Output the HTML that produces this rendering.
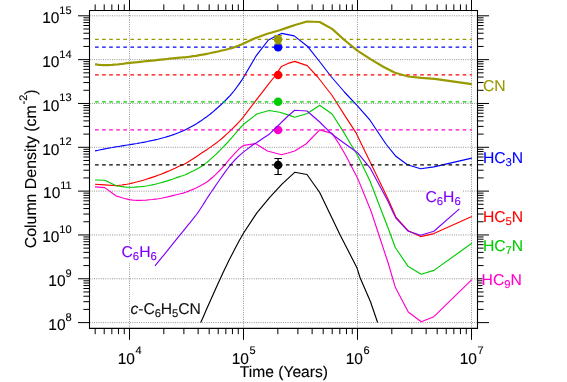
<!DOCTYPE html>
<html><head><meta charset="utf-8"><title>plot</title>
<style>
html,body{margin:0;padding:0;background:#fff;}
body{width:567px;height:382px;position:relative;overflow:hidden;font-family:"Liberation Sans",sans-serif;}
svg{display:block;will-change:transform;}
</style></head><body>
<svg width="567" height="382" viewBox="0 0 567 382" style="position:absolute;left:0;top:0">
<rect width="567" height="382" fill="#fff"/>
<line x1="129.50" y1="10.5" x2="129.50" y2="328.4" stroke="#959595" stroke-width="1" stroke-dasharray="1 1.25"/>
<line x1="243.50" y1="10.5" x2="243.50" y2="328.4" stroke="#959595" stroke-width="1" stroke-dasharray="1 1.25"/>
<line x1="357.50" y1="10.5" x2="357.50" y2="328.4" stroke="#959595" stroke-width="1" stroke-dasharray="1 1.25"/>
<line x1="471.50" y1="10.5" x2="471.50" y2="328.4" stroke="#959595" stroke-width="1" stroke-dasharray="1 1.25"/>
<line x1="89.5" y1="322.61" x2="477.5" y2="322.61" stroke="#959595" stroke-width="1" stroke-dasharray="1 1.25"/>
<line x1="89.5" y1="278.78" x2="477.5" y2="278.78" stroke="#959595" stroke-width="1" stroke-dasharray="1 1.25"/>
<line x1="89.5" y1="234.95" x2="477.5" y2="234.95" stroke="#959595" stroke-width="1" stroke-dasharray="1 1.25"/>
<line x1="89.5" y1="191.12" x2="477.5" y2="191.12" stroke="#959595" stroke-width="1" stroke-dasharray="1 1.25"/>
<line x1="89.5" y1="147.29" x2="477.5" y2="147.29" stroke="#959595" stroke-width="1" stroke-dasharray="1 1.25"/>
<line x1="89.5" y1="103.46" x2="477.5" y2="103.46" stroke="#959595" stroke-width="1" stroke-dasharray="1 1.25"/>
<line x1="89.5" y1="59.63" x2="477.5" y2="59.63" stroke="#959595" stroke-width="1" stroke-dasharray="1 1.25"/>
<line x1="89.5" y1="15.80" x2="477.5" y2="15.80" stroke="#959595" stroke-width="1" stroke-dasharray="1 1.25"/>
<rect x="425.9" y="190.0" width="36.0" height="17.7" fill="#fff"/>
<rect x="121.4" y="245.0" width="35.8" height="17.7" fill="#fff"/>
<rect x="130.6" y="301.0" width="69.8" height="17.7" fill="#fff"/>
<clipPath id="cp"><rect x="89.5" y="10.5" width="388.0" height="312.41"/></clipPath>
<g clip-path="url(#cp)" fill="none" stroke-linejoin="round" stroke-linecap="butt">
<polyline points="95.0,150.9 96.3,150.6 98.1,150.3 100.3,149.8 102.6,149.4 104.8,148.9 106.9,148.5 108.8,148.1 110.7,147.8 112.6,147.5 114.5,147.1 116.3,146.8 118.2,146.5 120.1,146.2 122.0,145.9 123.8,145.6 125.7,145.3 127.6,145.0 129.5,144.7 131.4,144.4 133.3,144.1 135.2,143.8 137.0,143.5 138.9,143.1 140.8,142.8 142.7,142.4 144.6,142.1 146.5,141.7 148.3,141.3 150.2,140.9 152.1,140.5 154.0,140.1 155.9,139.6 157.8,139.2 159.6,138.7 161.5,138.2 163.4,137.7 165.3,137.2 167.1,136.6 169.0,136.1 170.9,135.5 172.7,134.9 174.6,134.2 176.5,133.5 178.4,132.8 180.2,132.0 182.1,131.2 184.0,130.4 185.9,129.5 187.8,128.6 189.7,127.6 191.6,126.6 193.4,125.5 195.3,124.4 197.2,123.3 199.1,122.1 201.1,120.8 203.0,119.4 204.9,118.0 206.8,116.7 208.5,115.4 210.1,114.2 211.5,113.0 212.9,111.9 214.3,110.7 215.6,109.5 217.0,108.3 218.4,107.0 219.8,105.8 221.2,104.5 222.6,103.2 224.0,101.8 225.4,100.4 226.8,99.0 228.2,97.5 229.6,96.1 231.0,94.5 232.4,92.8 233.9,91.0 235.4,89.1 236.9,87.0 238.5,84.9 240.1,82.6 241.8,80.1 243.6,77.3 255.9,56.2 268.4,40.0 276.2,36.0 281.5,33.4 288.0,34.6 294.2,35.9 307.4,46.2 319.5,61.5 331.5,77.0 344.4,92.0 357.7,106.1 370.0,120.2 386.3,144.5 395.9,156.3 407.4,164.8 420.6,168.7 433.9,166.9 471.8,158.1" stroke="#0000ff" stroke-width="1.15"/>
<polyline points="95.0,184.2 104.8,184.9 116.2,185.8 117.6,185.6 119.5,185.3 121.8,185.0 124.2,184.6 126.8,184.2 129.4,183.7 132.0,183.1 134.7,182.5 137.5,181.8 140.4,181.0 143.3,180.2 146.2,179.3 149.1,178.4 152.1,177.4 155.1,176.4 158.0,175.3 161.0,174.2 163.8,173.1 166.6,171.9 169.5,170.7 172.3,169.4 175.0,168.2 177.5,167.0 179.7,166.0 181.3,165.3 182.3,165.0 183.2,164.7 184.1,164.3 185.6,163.4 188.0,162.0 191.5,159.8 196.0,156.9 200.9,153.6 206.0,150.2 210.8,146.9 214.9,144.0 218.3,141.4 221.3,139.0 223.9,136.7 226.4,134.4 228.8,132.2 231.2,129.9 233.5,127.6 235.7,125.5 237.7,123.3 239.8,121.1 241.8,118.8 243.8,116.4 256.2,100.1 268.5,84.2 274.2,77.0 281.5,66.4 288.0,63.4 294.7,61.4 307.2,65.6 317.7,77.0 332.1,95.5 344.4,114.9 355.9,132.6 361.4,144.0 370.9,163.4 388.0,199.0 393.3,211.0 395.9,217.2 408.3,230.8 420.6,236.6 433.9,233.6 471.8,216.6" stroke="#ff0000" stroke-width="1.15"/>
<polyline points="95.0,180.0 104.8,180.3 116.2,185.8 117.6,186.0 119.5,186.3 121.8,186.6 124.2,186.9 126.8,187.1 129.4,187.2 132.0,187.2 134.7,187.1 137.5,186.9 140.4,186.7 143.3,186.4 146.2,186.0 149.1,185.5 152.1,184.9 155.1,184.2 158.0,183.5 161.0,182.7 163.8,181.9 166.6,181.1 169.5,180.1 172.3,179.2 175.0,178.2 177.5,177.4 179.7,176.6 181.4,176.0 182.7,175.7 183.7,175.3 184.8,175.0 186.2,174.4 188.0,173.5 190.4,172.3 193.1,171.0 196.0,169.5 199.2,167.7 202.4,165.7 205.6,163.4 208.9,160.7 212.3,157.6 215.9,154.3 219.4,150.8 222.8,147.4 226.1,144.0 229.2,140.6 232.3,137.1 235.3,133.6 238.2,130.2 241.0,127.0 243.6,124.3 256.8,114.0 269.1,110.5 279.7,112.3 288.0,114.9 294.7,117.2 307.4,113.5 319.7,105.2 332.1,114.0 344.4,133.4 350.6,144.0 357.7,155.5 370.0,181.0 381.5,211.0 388.0,227.8 395.4,247.7 408.3,266.6 421.2,274.2 433.9,270.4 471.8,243.3" stroke="#00cc00" stroke-width="1.15"/>
<polyline points="95.0,186.9 104.8,187.6 116.2,196.0 117.7,196.4 119.7,197.0 122.1,197.8 124.6,198.5 127.1,199.1 129.4,199.6 131.3,199.9 133.1,200.2 134.9,200.3 136.7,200.4 138.7,200.4 140.9,200.4 143.5,200.3 146.3,200.1 149.3,199.8 152.4,199.5 155.5,199.1 158.5,198.7 161.5,198.2 164.6,197.5 167.7,196.9 170.7,196.1 173.6,195.4 176.2,194.8 178.4,194.3 180.4,193.8 182.1,193.4 183.9,192.9 185.8,192.3 188.0,191.4 190.6,190.3 193.6,189.1 196.7,187.7 199.8,186.1 202.8,184.5 205.6,182.8 208.2,181.0 210.6,179.0 213.0,177.0 215.3,174.9 217.5,172.7 219.7,170.5 221.9,168.2 224.0,165.8 226.1,163.3 228.1,160.9 230.1,158.5 232.1,156.3 234.1,154.2 236.0,152.1 237.9,150.1 239.8,148.2 241.7,146.7 243.6,145.4 255.5,143.6 267.4,151.0 281.5,154.7 288.0,153.0 294.7,151.0 306.0,144.0 319.7,129.9 332.1,133.4 339.1,144.0 346.2,156.3 357.7,178.4 371.0,211.0 388.0,262.5 395.4,287.6 408.3,312.0 421.2,321.7 433.9,316.7 471.8,279.7" stroke="#ff00cc" stroke-width="1.15"/>
<line x1="95.05" y1="47.15" x2="471.85" y2="47.15" stroke="#0000ff" stroke-width="1.3" stroke-dasharray="3.6 3.47"/>
<circle cx="278.1" cy="47.15" r="4.25" fill="#0000ff" stroke="none"/>
<line x1="95.05" y1="74.95" x2="471.85" y2="74.95" stroke="#ff0000" stroke-width="1.3" stroke-dasharray="3.6 3.47"/>
<circle cx="278.1" cy="74.95" r="4.25" fill="#ff0000" stroke="none"/>
<line x1="95.05" y1="101.8" x2="471.85" y2="101.8" stroke="#00cc00" stroke-width="1.3" stroke-dasharray="3.6 3.47"/>
<circle cx="278.1" cy="101.8" r="4.25" fill="#00cc00" stroke="none"/>
<line x1="95.05" y1="129.95" x2="471.85" y2="129.95" stroke="#ff00cc" stroke-width="1.3" stroke-dasharray="3.6 3.47"/>
<circle cx="278.1" cy="129.95" r="4.25" fill="#ff00cc" stroke="none"/>
<polyline points="155.0,265.8 158.8,261.1 164.4,254.3 170.8,246.3 177.4,238.2 183.4,230.8 188.0,225.1 191.1,221.3 193.3,218.6 194.8,216.7 196.1,215.0 197.4,213.3 199.0,211.0 200.8,208.3 202.6,205.5 204.4,202.6 206.3,199.5 208.5,196.1 210.9,192.5 213.8,188.3 217.0,183.5 220.5,178.5 224.0,173.6 227.3,169.0 230.3,165.2 232.9,162.1 235.3,159.5 237.5,157.3 239.6,155.4 241.6,153.6 243.6,151.9 254.1,144.0 256.8,142.6 269.1,134.3 288.0,116.0 294.7,110.2 307.0,111.0 319.7,122.0 332.1,134.3 345.0,143.8 357.7,152.8 370.0,167.8 388.0,201.3 392.4,211.0 395.9,218.1 408.3,231.3 420.6,235.3 433.9,231.3 457.7,210.4 459.3,209.0" stroke="#8000ff" stroke-width="1.15"/>
<line x1="95.05" y1="39.45" x2="471.85" y2="39.45" stroke="#999900" stroke-width="1.3" stroke-dasharray="3.6 3.47"/>
<polyline points="95.0,64.3 96.1,64.4 97.5,64.6 99.2,64.8 101.0,65.0 102.9,65.1 104.8,65.2 106.5,65.2 108.4,65.1 110.2,65.0 112.2,64.9 114.2,64.7 116.2,64.5 118.3,64.3 120.4,64.0 122.6,63.8 124.8,63.5 127.2,63.2 129.6,62.9 132.1,62.6 134.8,62.3 137.5,62.1 140.3,61.8 143.1,61.5 146.0,61.2 148.9,60.9 152.0,60.6 155.0,60.3 158.1,59.9 161.1,59.6 164.0,59.3 166.9,59.0 169.8,58.7 172.6,58.4 175.3,58.1 177.8,57.8 180.0,57.6 181.7,57.5 182.9,57.4 183.9,57.4 184.9,57.3 186.2,57.2 188.0,57.0 190.4,56.7 193.2,56.2 196.2,55.8 199.4,55.2 202.5,54.7 205.6,54.1 208.6,53.5 211.8,52.8 214.9,52.1 217.9,51.5 220.8,50.8 223.3,50.2 225.5,49.7 227.4,49.2 229.1,48.8 230.7,48.4 232.3,47.9 233.9,47.4 235.5,46.8 237.1,46.2 238.7,45.6 240.3,44.9 241.9,44.2 243.6,43.5 255.0,38.2 267.4,33.8 279.7,30.3 288.0,27.4 295.0,25.0 307.0,21.5 319.7,22.0 332.1,28.9 344.4,40.0 357.7,50.9 370.9,59.4 383.2,66.8 395.0,72.8 408.2,76.5 421.4,77.9 434.7,78.9 447.0,80.6 471.8,84.2" stroke="#999900" stroke-width="2.2"/>
<g stroke="#999900" stroke-width="1.1"><line x1="278.1" y1="35.6" x2="278.1" y2="44.0" stroke-width="1.3"/><line x1="274.35" y1="35.6" x2="281.85" y2="35.6"/><line x1="274.35" y1="44.0" x2="281.85" y2="44.0"/></g>
<circle cx="278.1" cy="39.45" r="4.25" fill="#999900" stroke="none"/>
<polyline points="200.7,322.5 203.0,317.4 206.2,310.1 210.0,301.6 213.9,292.8 217.6,284.6 220.6,278.0 222.9,273.0 224.8,269.0 226.4,265.7 227.9,262.6 229.4,259.5 231.2,256.0 233.2,252.2 235.2,248.3 237.2,244.4 239.3,240.5 241.5,236.7 243.6,233.0 256.7,213.1 269.5,197.6 282.2,183.9 294.7,172.3 307.0,174.5 319.7,192.5 328.6,211.0 340.0,234.8 356.8,267.4 360.2,278.0 370.5,301.8 377.6,322.5" stroke="#000000" stroke-width="1.15"/>
<line x1="95.05" y1="164.95" x2="471.85" y2="164.95" stroke="#000000" stroke-width="1.3" stroke-dasharray="3.6 3.47"/>
<g stroke="#000000" stroke-width="1.1"><line x1="278.1" y1="158.5" x2="278.1" y2="174.5" stroke-width="1.3"/><line x1="274.35" y1="158.5" x2="281.85" y2="158.5"/><line x1="274.35" y1="174.5" x2="281.85" y2="174.5"/></g>
<circle cx="278.1" cy="164.95" r="4.25" fill="#000000" stroke="none"/>
</g>
<g stroke="#000" stroke-width="1" fill="none">
<path d="M89.5 328.4 V10.5 H477.5 V328.4 Z" stroke-width="1.1"/>
<line x1="95.18" y1="4.4" x2="95.18" y2="10.5"/>
<line x1="95.18" y1="328.4" x2="95.18" y2="334.2"/>
<line x1="104.21" y1="4.4" x2="104.21" y2="10.5"/>
<line x1="104.21" y1="328.4" x2="104.21" y2="334.2"/>
<line x1="111.84" y1="4.4" x2="111.84" y2="10.5"/>
<line x1="111.84" y1="328.4" x2="111.84" y2="334.2"/>
<line x1="118.45" y1="4.4" x2="118.45" y2="10.5"/>
<line x1="118.45" y1="328.4" x2="118.45" y2="334.2"/>
<line x1="124.28" y1="4.4" x2="124.28" y2="10.5"/>
<line x1="124.28" y1="328.4" x2="124.28" y2="334.2"/>
<line x1="129.50" y1="0" x2="129.50" y2="10.5"/>
<line x1="129.50" y1="328.4" x2="129.50" y2="339.8"/>
<line x1="163.82" y1="4.4" x2="163.82" y2="10.5"/>
<line x1="163.82" y1="328.4" x2="163.82" y2="334.2"/>
<line x1="183.89" y1="4.4" x2="183.89" y2="10.5"/>
<line x1="183.89" y1="328.4" x2="183.89" y2="334.2"/>
<line x1="198.13" y1="4.4" x2="198.13" y2="10.5"/>
<line x1="198.13" y1="328.4" x2="198.13" y2="334.2"/>
<line x1="209.18" y1="4.4" x2="209.18" y2="10.5"/>
<line x1="209.18" y1="328.4" x2="209.18" y2="334.2"/>
<line x1="218.21" y1="4.4" x2="218.21" y2="10.5"/>
<line x1="218.21" y1="328.4" x2="218.21" y2="334.2"/>
<line x1="225.84" y1="4.4" x2="225.84" y2="10.5"/>
<line x1="225.84" y1="328.4" x2="225.84" y2="334.2"/>
<line x1="232.45" y1="4.4" x2="232.45" y2="10.5"/>
<line x1="232.45" y1="328.4" x2="232.45" y2="334.2"/>
<line x1="238.28" y1="4.4" x2="238.28" y2="10.5"/>
<line x1="238.28" y1="328.4" x2="238.28" y2="334.2"/>
<line x1="243.50" y1="0" x2="243.50" y2="10.5"/>
<line x1="243.50" y1="328.4" x2="243.50" y2="339.8"/>
<line x1="277.82" y1="4.4" x2="277.82" y2="10.5"/>
<line x1="277.82" y1="328.4" x2="277.82" y2="334.2"/>
<line x1="297.89" y1="4.4" x2="297.89" y2="10.5"/>
<line x1="297.89" y1="328.4" x2="297.89" y2="334.2"/>
<line x1="312.13" y1="4.4" x2="312.13" y2="10.5"/>
<line x1="312.13" y1="328.4" x2="312.13" y2="334.2"/>
<line x1="323.18" y1="4.4" x2="323.18" y2="10.5"/>
<line x1="323.18" y1="328.4" x2="323.18" y2="334.2"/>
<line x1="332.21" y1="4.4" x2="332.21" y2="10.5"/>
<line x1="332.21" y1="328.4" x2="332.21" y2="334.2"/>
<line x1="339.84" y1="4.4" x2="339.84" y2="10.5"/>
<line x1="339.84" y1="328.4" x2="339.84" y2="334.2"/>
<line x1="346.45" y1="4.4" x2="346.45" y2="10.5"/>
<line x1="346.45" y1="328.4" x2="346.45" y2="334.2"/>
<line x1="352.28" y1="4.4" x2="352.28" y2="10.5"/>
<line x1="352.28" y1="328.4" x2="352.28" y2="334.2"/>
<line x1="357.50" y1="0" x2="357.50" y2="10.5"/>
<line x1="357.50" y1="328.4" x2="357.50" y2="339.8"/>
<line x1="391.82" y1="4.4" x2="391.82" y2="10.5"/>
<line x1="391.82" y1="328.4" x2="391.82" y2="334.2"/>
<line x1="411.89" y1="4.4" x2="411.89" y2="10.5"/>
<line x1="411.89" y1="328.4" x2="411.89" y2="334.2"/>
<line x1="426.13" y1="4.4" x2="426.13" y2="10.5"/>
<line x1="426.13" y1="328.4" x2="426.13" y2="334.2"/>
<line x1="437.18" y1="4.4" x2="437.18" y2="10.5"/>
<line x1="437.18" y1="328.4" x2="437.18" y2="334.2"/>
<line x1="446.21" y1="4.4" x2="446.21" y2="10.5"/>
<line x1="446.21" y1="328.4" x2="446.21" y2="334.2"/>
<line x1="453.84" y1="4.4" x2="453.84" y2="10.5"/>
<line x1="453.84" y1="328.4" x2="453.84" y2="334.2"/>
<line x1="460.45" y1="4.4" x2="460.45" y2="10.5"/>
<line x1="460.45" y1="328.4" x2="460.45" y2="334.2"/>
<line x1="466.28" y1="4.4" x2="466.28" y2="10.5"/>
<line x1="466.28" y1="328.4" x2="466.28" y2="334.2"/>
<line x1="471.50" y1="0" x2="471.50" y2="10.5"/>
<line x1="471.50" y1="328.4" x2="471.50" y2="339.8"/>
<line x1="78" y1="322.61" x2="89.5" y2="322.61"/>
<line x1="477.5" y1="322.61" x2="489" y2="322.61"/>
<line x1="83.4" y1="309.42" x2="89.5" y2="309.42"/>
<line x1="477.5" y1="309.42" x2="483.6" y2="309.42"/>
<line x1="83.4" y1="301.70" x2="89.5" y2="301.70"/>
<line x1="477.5" y1="301.70" x2="483.6" y2="301.70"/>
<line x1="83.4" y1="296.22" x2="89.5" y2="296.22"/>
<line x1="477.5" y1="296.22" x2="483.6" y2="296.22"/>
<line x1="83.4" y1="291.97" x2="89.5" y2="291.97"/>
<line x1="477.5" y1="291.97" x2="483.6" y2="291.97"/>
<line x1="83.4" y1="288.50" x2="89.5" y2="288.50"/>
<line x1="477.5" y1="288.50" x2="483.6" y2="288.50"/>
<line x1="83.4" y1="285.57" x2="89.5" y2="285.57"/>
<line x1="477.5" y1="285.57" x2="483.6" y2="285.57"/>
<line x1="83.4" y1="283.03" x2="89.5" y2="283.03"/>
<line x1="477.5" y1="283.03" x2="483.6" y2="283.03"/>
<line x1="83.4" y1="280.79" x2="89.5" y2="280.79"/>
<line x1="477.5" y1="280.79" x2="483.6" y2="280.79"/>
<line x1="78" y1="278.78" x2="89.5" y2="278.78"/>
<line x1="477.5" y1="278.78" x2="489" y2="278.78"/>
<line x1="83.4" y1="265.59" x2="89.5" y2="265.59"/>
<line x1="477.5" y1="265.59" x2="483.6" y2="265.59"/>
<line x1="83.4" y1="257.87" x2="89.5" y2="257.87"/>
<line x1="477.5" y1="257.87" x2="483.6" y2="257.87"/>
<line x1="83.4" y1="252.39" x2="89.5" y2="252.39"/>
<line x1="477.5" y1="252.39" x2="483.6" y2="252.39"/>
<line x1="83.4" y1="248.14" x2="89.5" y2="248.14"/>
<line x1="477.5" y1="248.14" x2="483.6" y2="248.14"/>
<line x1="83.4" y1="244.67" x2="89.5" y2="244.67"/>
<line x1="477.5" y1="244.67" x2="483.6" y2="244.67"/>
<line x1="83.4" y1="241.74" x2="89.5" y2="241.74"/>
<line x1="477.5" y1="241.74" x2="483.6" y2="241.74"/>
<line x1="83.4" y1="239.20" x2="89.5" y2="239.20"/>
<line x1="477.5" y1="239.20" x2="483.6" y2="239.20"/>
<line x1="83.4" y1="236.96" x2="89.5" y2="236.96"/>
<line x1="477.5" y1="236.96" x2="483.6" y2="236.96"/>
<line x1="78" y1="234.95" x2="89.5" y2="234.95"/>
<line x1="477.5" y1="234.95" x2="489" y2="234.95"/>
<line x1="83.4" y1="221.76" x2="89.5" y2="221.76"/>
<line x1="477.5" y1="221.76" x2="483.6" y2="221.76"/>
<line x1="83.4" y1="214.04" x2="89.5" y2="214.04"/>
<line x1="477.5" y1="214.04" x2="483.6" y2="214.04"/>
<line x1="83.4" y1="208.56" x2="89.5" y2="208.56"/>
<line x1="477.5" y1="208.56" x2="483.6" y2="208.56"/>
<line x1="83.4" y1="204.31" x2="89.5" y2="204.31"/>
<line x1="477.5" y1="204.31" x2="483.6" y2="204.31"/>
<line x1="83.4" y1="200.84" x2="89.5" y2="200.84"/>
<line x1="477.5" y1="200.84" x2="483.6" y2="200.84"/>
<line x1="83.4" y1="197.91" x2="89.5" y2="197.91"/>
<line x1="477.5" y1="197.91" x2="483.6" y2="197.91"/>
<line x1="83.4" y1="195.37" x2="89.5" y2="195.37"/>
<line x1="477.5" y1="195.37" x2="483.6" y2="195.37"/>
<line x1="83.4" y1="193.13" x2="89.5" y2="193.13"/>
<line x1="477.5" y1="193.13" x2="483.6" y2="193.13"/>
<line x1="78" y1="191.12" x2="89.5" y2="191.12"/>
<line x1="477.5" y1="191.12" x2="489" y2="191.12"/>
<line x1="83.4" y1="177.93" x2="89.5" y2="177.93"/>
<line x1="477.5" y1="177.93" x2="483.6" y2="177.93"/>
<line x1="83.4" y1="170.21" x2="89.5" y2="170.21"/>
<line x1="477.5" y1="170.21" x2="483.6" y2="170.21"/>
<line x1="83.4" y1="164.73" x2="89.5" y2="164.73"/>
<line x1="477.5" y1="164.73" x2="483.6" y2="164.73"/>
<line x1="83.4" y1="160.48" x2="89.5" y2="160.48"/>
<line x1="477.5" y1="160.48" x2="483.6" y2="160.48"/>
<line x1="83.4" y1="157.01" x2="89.5" y2="157.01"/>
<line x1="477.5" y1="157.01" x2="483.6" y2="157.01"/>
<line x1="83.4" y1="154.08" x2="89.5" y2="154.08"/>
<line x1="477.5" y1="154.08" x2="483.6" y2="154.08"/>
<line x1="83.4" y1="151.54" x2="89.5" y2="151.54"/>
<line x1="477.5" y1="151.54" x2="483.6" y2="151.54"/>
<line x1="83.4" y1="149.30" x2="89.5" y2="149.30"/>
<line x1="477.5" y1="149.30" x2="483.6" y2="149.30"/>
<line x1="78" y1="147.29" x2="89.5" y2="147.29"/>
<line x1="477.5" y1="147.29" x2="489" y2="147.29"/>
<line x1="83.4" y1="134.10" x2="89.5" y2="134.10"/>
<line x1="477.5" y1="134.10" x2="483.6" y2="134.10"/>
<line x1="83.4" y1="126.38" x2="89.5" y2="126.38"/>
<line x1="477.5" y1="126.38" x2="483.6" y2="126.38"/>
<line x1="83.4" y1="120.90" x2="89.5" y2="120.90"/>
<line x1="477.5" y1="120.90" x2="483.6" y2="120.90"/>
<line x1="83.4" y1="116.65" x2="89.5" y2="116.65"/>
<line x1="477.5" y1="116.65" x2="483.6" y2="116.65"/>
<line x1="83.4" y1="113.18" x2="89.5" y2="113.18"/>
<line x1="477.5" y1="113.18" x2="483.6" y2="113.18"/>
<line x1="83.4" y1="110.25" x2="89.5" y2="110.25"/>
<line x1="477.5" y1="110.25" x2="483.6" y2="110.25"/>
<line x1="83.4" y1="107.71" x2="89.5" y2="107.71"/>
<line x1="477.5" y1="107.71" x2="483.6" y2="107.71"/>
<line x1="83.4" y1="105.47" x2="89.5" y2="105.47"/>
<line x1="477.5" y1="105.47" x2="483.6" y2="105.47"/>
<line x1="78" y1="103.46" x2="89.5" y2="103.46"/>
<line x1="477.5" y1="103.46" x2="489" y2="103.46"/>
<line x1="83.4" y1="90.27" x2="89.5" y2="90.27"/>
<line x1="477.5" y1="90.27" x2="483.6" y2="90.27"/>
<line x1="83.4" y1="82.55" x2="89.5" y2="82.55"/>
<line x1="477.5" y1="82.55" x2="483.6" y2="82.55"/>
<line x1="83.4" y1="77.07" x2="89.5" y2="77.07"/>
<line x1="477.5" y1="77.07" x2="483.6" y2="77.07"/>
<line x1="83.4" y1="72.82" x2="89.5" y2="72.82"/>
<line x1="477.5" y1="72.82" x2="483.6" y2="72.82"/>
<line x1="83.4" y1="69.35" x2="89.5" y2="69.35"/>
<line x1="477.5" y1="69.35" x2="483.6" y2="69.35"/>
<line x1="83.4" y1="66.42" x2="89.5" y2="66.42"/>
<line x1="477.5" y1="66.42" x2="483.6" y2="66.42"/>
<line x1="83.4" y1="63.88" x2="89.5" y2="63.88"/>
<line x1="477.5" y1="63.88" x2="483.6" y2="63.88"/>
<line x1="83.4" y1="61.64" x2="89.5" y2="61.64"/>
<line x1="477.5" y1="61.64" x2="483.6" y2="61.64"/>
<line x1="78" y1="59.63" x2="89.5" y2="59.63"/>
<line x1="477.5" y1="59.63" x2="489" y2="59.63"/>
<line x1="83.4" y1="46.44" x2="89.5" y2="46.44"/>
<line x1="477.5" y1="46.44" x2="483.6" y2="46.44"/>
<line x1="83.4" y1="38.72" x2="89.5" y2="38.72"/>
<line x1="477.5" y1="38.72" x2="483.6" y2="38.72"/>
<line x1="83.4" y1="33.24" x2="89.5" y2="33.24"/>
<line x1="477.5" y1="33.24" x2="483.6" y2="33.24"/>
<line x1="83.4" y1="28.99" x2="89.5" y2="28.99"/>
<line x1="477.5" y1="28.99" x2="483.6" y2="28.99"/>
<line x1="83.4" y1="25.52" x2="89.5" y2="25.52"/>
<line x1="477.5" y1="25.52" x2="483.6" y2="25.52"/>
<line x1="83.4" y1="22.59" x2="89.5" y2="22.59"/>
<line x1="477.5" y1="22.59" x2="483.6" y2="22.59"/>
<line x1="83.4" y1="20.05" x2="89.5" y2="20.05"/>
<line x1="477.5" y1="20.05" x2="483.6" y2="20.05"/>
<line x1="83.4" y1="17.81" x2="89.5" y2="17.81"/>
<line x1="477.5" y1="17.81" x2="483.6" y2="17.81"/>
<line x1="78" y1="15.80" x2="89.5" y2="15.80"/>
<line x1="477.5" y1="15.80" x2="489" y2="15.80"/>
</g>
<g font-family="Liberation Sans, sans-serif" text-rendering="geometricPrecision" fill="#000" stroke="#000" stroke-width="0.12">
<text x="71.6" y="329.91" font-size="15.5" text-anchor="end">10<tspan dy="-9.3" dx="-0.1" font-size="11">8</tspan></text>
<text x="71.6" y="286.08" font-size="15.5" text-anchor="end">10<tspan dy="-9.3" dx="-0.1" font-size="11">9</tspan></text>
<text x="71.6" y="242.25" font-size="15.5" text-anchor="end">10<tspan dy="-9.3" dx="-0.1" font-size="11">10</tspan></text>
<text x="71.6" y="198.42" font-size="15.5" text-anchor="end">10<tspan dy="-9.3" dx="-0.1" font-size="11">11</tspan></text>
<text x="71.6" y="154.59" font-size="15.5" text-anchor="end">10<tspan dy="-9.3" dx="-0.1" font-size="11">12</tspan></text>
<text x="71.6" y="110.76" font-size="15.5" text-anchor="end">10<tspan dy="-9.3" dx="-0.1" font-size="11">13</tspan></text>
<text x="71.6" y="66.93" font-size="15.5" text-anchor="end">10<tspan dy="-9.3" dx="-0.1" font-size="11">14</tspan></text>
<text x="71.6" y="23.10" font-size="15.5" text-anchor="end">10<tspan dy="-9.3" dx="-0.1" font-size="11">15</tspan></text>
<text x="129.70" y="363.8" font-size="15.5" text-anchor="middle">10<tspan dy="-9.5" dx="0.5" font-size="11">4</tspan></text>
<text x="243.70" y="363.8" font-size="15.5" text-anchor="middle">10<tspan dy="-9.5" dx="0.5" font-size="11">5</tspan></text>
<text x="357.70" y="363.8" font-size="15.5" text-anchor="middle">10<tspan dy="-9.5" dx="0.5" font-size="11">6</tspan></text>
<text x="471.70" y="363.8" font-size="15.5" text-anchor="middle">10<tspan dy="-9.5" dx="0.5" font-size="11">7</tspan></text>
<text x="283.9" y="377.3" font-size="15.6" text-anchor="middle">Time (Years)</text>
<text transform="translate(36.4,248.3) rotate(-90)" font-size="15.9">Column Density (cm<tspan dy="-9.6" dx="0.8" font-size="11">-2</tspan><tspan dy="9.6" font-size="15.9">)</tspan></text>
<text x="483.0" y="90.9" font-size="15.7" fill="#999900" stroke="#999900"><tspan>CN</tspan></text>
<text x="482.9" y="163.2" font-size="15.7" fill="#0000ff" stroke="#0000ff"><tspan>HC</tspan><tspan dy="3" font-size="11.3">3</tspan><tspan dy="-3">N</tspan></text>
<text x="482.9" y="222.4" font-size="15.7" fill="#ff0000" stroke="#ff0000"><tspan>HC</tspan><tspan dy="3" font-size="11.3">5</tspan><tspan dy="-3">N</tspan></text>
<text x="482.9" y="250.9" font-size="15.7" fill="#00cc00" stroke="#00cc00"><tspan>HC</tspan><tspan dy="3" font-size="11.3">7</tspan><tspan dy="-3">N</tspan></text>
<rect x="482.5" y="272.4" width="42" height="17.7" fill="#fff" stroke="none"/>
<text x="481.6" y="284.9" font-size="15.7" fill="#ff00cc" stroke="#ff00cc"><tspan>HC</tspan><tspan dy="3" font-size="11.3">9</tspan><tspan dy="-3">N</tspan></text>
<text x="425.4" y="202.4" font-size="15.7" fill="#8000ff" stroke="#8000ff"><tspan>C</tspan><tspan dy="3" font-size="11.3">6</tspan><tspan dy="-3">H</tspan><tspan dy="3" font-size="11.3">6</tspan></text>
<text x="121.5" y="257.4" font-size="15.7" fill="#8000ff" stroke="#8000ff"><tspan>C</tspan><tspan dy="3" font-size="11.3">6</tspan><tspan dy="-3">H</tspan><tspan dy="3" font-size="11.3">6</tspan></text>
<text x="130.6" y="313.5" font-size="15.7" fill="#111" stroke="#111" letter-spacing="-0.11"><tspan font-style="italic">c</tspan><tspan>-C</tspan><tspan dy="3" font-size="11.3">6</tspan><tspan dy="-3">H</tspan><tspan dy="3" font-size="11.3">5</tspan><tspan dy="-3">CN</tspan></text>
</g>
</svg>
</body></html>
